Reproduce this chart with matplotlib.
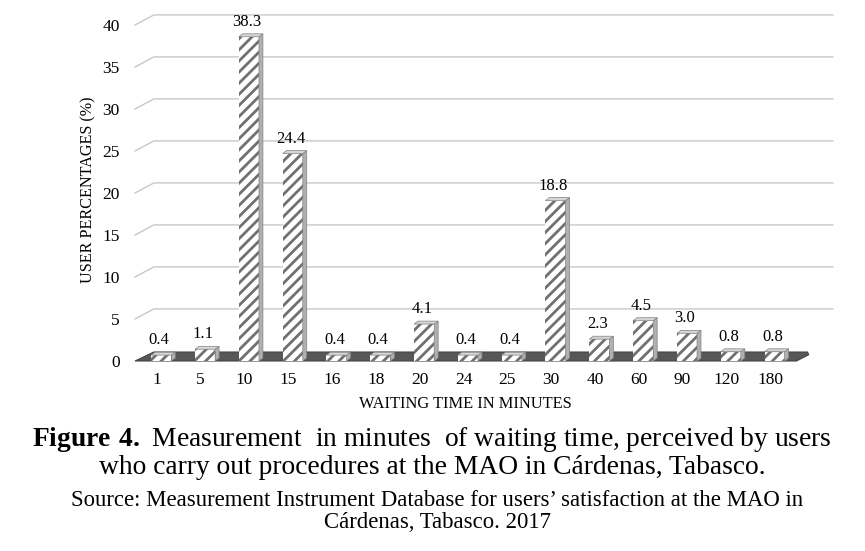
import matplotlib.pyplot as plt
from matplotlib.patches import Polygon
import numpy as np

# waiting time categories (minutes) and share of users (%)
categories = ['1', '5', '10', '15', '16', '18', '20', '24', '25', '30', '40', '60', '90', '120', '180']
percentages = [0.4, 1.1, 38.3, 24.4, 0.4, 0.4, 4.1, 0.4, 0.4, 18.8, 2.3, 4.5, 3.0, 0.8, 0.8]
value_labels = ['0.4', '1.1', '38.3', '24.4', '0.4', '0.4', '4.1', '0.4', '0.4', '18.8',
                '2.3', '4.5', '3.0', '0.8', '0.8']
yticks = [0, 5, 10, 15, 20, 25, 30, 35, 40]

plt.rcParams['font.family'] = ['Liberation Serif', 'DejaVu Serif']
plt.rcParams['mathtext.fontset'] = 'custom'
plt.rcParams['mathtext.rm'] = 'Liberation Serif'
plt.rcParams['mathtext.bf'] = 'Liberation Serif:bold'
plt.rcParams['hatch.linewidth'] = 2.0
plt.rcParams['hatch.color'] = '#707070'

fig = plt.figure(figsize=(8.65, 5.51), dpi=100)
ax = fig.add_axes([135 / 865, 190 / 551, 665 / 865, 336 / 551])
ax.set_xlim(-0.5, 14.68)
ax.set_ylim(0, 40)
for s in ax.spines.values():
    s.set_visible(False)

# fake 3d depth (in data units)
dx, dy = 0.43, 1.2
xl = -0.5
x_end = 15.43

# back wall grid lines
for v in yticks[1:]:
    ax.plot([xl, xl + dx, x_end], [v, v + dy, v + dy], color='#c8c8c8', lw=1,
            clip_on=False, zorder=1)

# floor slab
floor = Polygon([(xl, 0), (xl + dx, 1.07), (14.85, 1.07), (14.88, 0.75), (14.6, 0)],
                closed=True, facecolor='#575757', edgecolor='#444444', lw=0.8,
                clip_on=False, zorder=2)
ax.add_patch(floor)

# bars
x = np.arange(len(categories))
bw = 0.46
shift = 0.1
lift = 0.3
bx = x + shift
ax.bar(bx, np.array(percentages) + lift, width=bw, bottom=0, color='white',
       edgecolor='#707070', hatch='///', lw=0, zorder=3)
sdx, sdy = 0.09, 0.35
for xi, v in zip(bx, percentages):
    top = v + lift
    r = xi + bw / 2
    l = xi - bw / 2
    side = Polygon([(r, 0), (r + sdx, sdy), (r + sdx, top + sdy), (r, top)],
                   closed=True, facecolor='#b0b0b0', edgecolor='#808080', lw=0.5,
                   zorder=3, clip_on=False)
    ax.add_patch(side)
    lid = Polygon([(l, top), (l + sdx, top + sdy), (r + sdx, top + sdy), (r, top)],
                  closed=True, facecolor='#d6d6d6', edgecolor='#808080', lw=0.5,
                  zorder=3, clip_on=False)
    ax.add_patch(lid)

for xi, v, lab in zip(x, percentages, value_labels):
    ax.annotate(lab, (xi + 0.05, v + lift), xytext=(0, 5), textcoords='offset points',
                ha='center', va='bottom', fontsize=12, zorder=5)

ax.set_xticks(x)
ax.set_xticklabels(categories, fontsize=12.5)
ax.set_yticks(yticks)
ax.set_yticklabels([str(t) for t in yticks], fontsize=12.5)
ax.tick_params(axis='both', length=0)
ax.tick_params(axis='x', pad=8)
ax.tick_params(axis='y', pad=11)

fig.text(465 / 865, 1 - 404 / 551, 'WAITING TIME IN MINUTES', ha='center', va='center',
         fontsize=11.8)
fig.text(88 / 865, 1 - 190 / 551, 'USER PERCENTAGES (%)', ha='center', va='center',
         rotation=90, fontsize=11.6)

# caption
fig.text(432 / 865, 1 - 440 / 551,
         r'$\mathbf{Figure\ 4.}$' + ' Measurement  in minutes  of waiting time, perceived by users',
         ha='center', va='center', fontsize=19.8)
fig.text(432 / 865, 1 - 468 / 551,
         'who carry out procedures at the MAO in Cárdenas, Tabasco.',
         ha='center', va='center', fontsize=19.8)
fig.text(437 / 865, 1 - 500 / 551,
         'Source: Measurement Instrument Database for users\u2019 satisfaction at the MAO in',
         ha='center', va='center', fontsize=16.4)
fig.text(437 / 865, 1 - 522 / 551, 'Cárdenas, Tabasco. 2017',
         ha='center', va='center', fontsize=16.4)

fig.savefig('out.png', dpi=100)
